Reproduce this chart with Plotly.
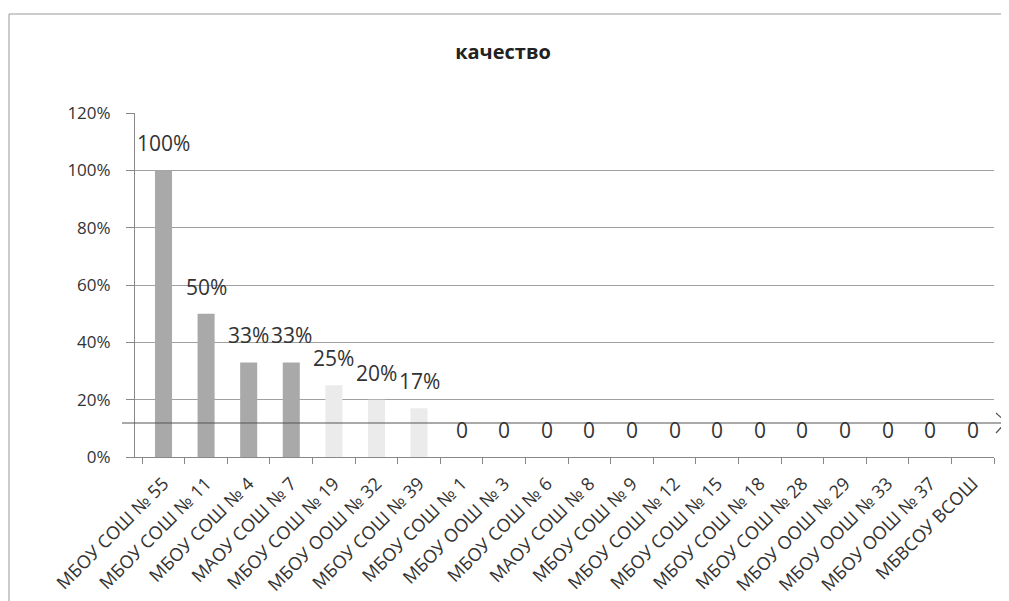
import plotly.graph_objects as go

categories = ["МБОУ СОШ № 55", "МБОУ СОШ № 11", "МБОУ СОШ № 4", "МАОУ СОШ № 7",
              "МБОУ СОШ № 19", "МБОУ ООШ № 32", "МБОУ СОШ № 39", "МБОУ СОШ № 1",
              "МБОУ ООШ № 3", "МБОУ СОШ № 6", "МАОУ СОШ № 8", "МБОУ СОШ № 9",
              "МБОУ СОШ № 12", "МБОУ СОШ № 15", "МБОУ СОШ № 18", "МБОУ СОШ № 28",
              "МБОУ ООШ № 29", "МБОУ ООШ № 33", "МБОУ ООШ № 37", "МБВСОУ ВСОШ"]
values = [1.00, 0.50, 0.33, 0.33, 0.25, 0.20, 0.17, 0, 0, 0, 0, 0, 0, 0, 0, 0, 0, 0, 0, 0]
value_labels = ["100%", "50%", "33%", "33%", "25%", "20%", "17%", "0", "0", "0", "0",
                "0", "0", "0", "0", "0", "0", "0", "0", "0"]
y_ticks = [0, 0.2, 0.4, 0.6, 0.8, 1.0, 1.2]
y_tick_labels = ["0%", "20%", "40%", "60%", "80%", "100%", "120%"]

bar_colors = ["#a9a9a9"] * 4 + ["#ebebeb"] * 3 + ["#cccccc"] * 13

FONT = "'Open Sans', Lato, sans-serif"

# page offset (body margin) and figure size
OFF = 8
FW, FH = 1009 - OFF, 601 - OFF
# plot area in screen pixels -> figure pixels
L, R, T, B = 135 - OFF, 994 - OFF, 113 - OFF, 457 - OFF
W, H = R - L, B - T


def px(x):
    return (x - OFF - L) / W


def py(y):
    return (B - (y - OFF)) / H


fig = go.Figure()
fig.add_trace(go.Bar(x=categories, y=values, marker_color=bar_colors,
                     marker_line_width=0, width=0.4, showlegend=False))

for c, v, t in zip(categories, values, value_labels):
    fig.add_annotation(x=c, y=v, text=t, showarrow=False, xref="x", yref="y",
                       yanchor="bottom", yshift=11,
                       font=dict(family=FONT, size=21, color="#333333"))

# hand-drawn horizontal arrow line across the chart
arrow_col = "#555555"
fig.add_shape(type="line", xref="paper", yref="paper",
              x0=px(122), x1=px(1005), y0=py(423), y1=py(423),
              line=dict(color=arrow_col, width=1.2))
fig.add_shape(type="line", xref="paper", yref="paper",
              x0=px(996), x1=px(1006), y0=py(413), y1=py(422),
              line=dict(color=arrow_col, width=1.2))
fig.add_shape(type="line", xref="paper", yref="paper",
              x0=px(1006), x1=px(996), y0=py(422), y1=py(433),
              line=dict(color=arrow_col, width=1.2))

# outer frame (top and left edges)
fig.add_shape(type="line", xref="paper", yref="paper",
              x0=px(9), x1=px(1012), y0=py(14), y1=py(14),
              line=dict(color="#999999", width=1))
fig.add_shape(type="line", xref="paper", yref="paper",
              x0=px(9), x1=px(9), y0=py(14), y1=py(610),
              line=dict(color="#999999", width=1))

fig.update_layout(
    width=FW, height=FH,
    margin=dict(l=L, r=FW - R, t=T, b=FH - B, autoexpand=False),
    paper_bgcolor="white", plot_bgcolor="white",
    title=dict(text="<b>качество</b>", x=(503 - OFF) / FW, xref="container",
               y=1 - (52 - OFF) / FH, yref="container",
               xanchor="center", yanchor="middle",
               font=dict(family=FONT, size=20, color="#222222")),
    font=dict(family=FONT, color="#333333"),
    bargap=0.6,
)
fig.update_xaxes(tickangle=-45, tickfont=dict(size=18, color="#333333"),
                 automargin=False, ticklabelstandoff=8,
                 showline=True, linecolor="#888888", linewidth=1,
                 ticks="outside", tickson="boundaries", ticklen=6, tickcolor="#888888",
                 showgrid=False)
fig.update_yaxes(range=[0, 1.2], tickvals=y_ticks, ticktext=y_tick_labels,
                 tickfont=dict(size=17, color="#333333"), automargin=False,
                 showgrid=True, gridcolor="#a0a0a0", gridwidth=1,
                 showline=True, linecolor="#888888", linewidth=1,
                 ticks="outside", ticklen=8, tickcolor="#888888",
                 ticklabelstandoff=12, zeroline=False)

fig.write_html("out.html")
